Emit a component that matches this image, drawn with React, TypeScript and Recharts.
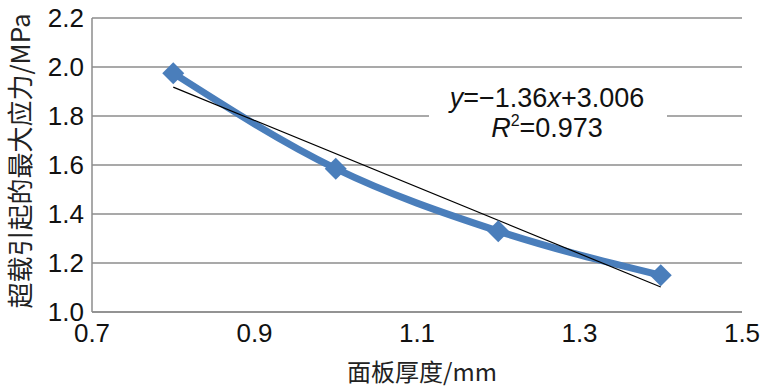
import { LineChart, Line, XAxis, YAxis, CartesianGrid, ReferenceDot } from 'recharts';

// 面板厚度 (mm)
const thickness = [0.8, 1.0, 1.2, 1.4];
// 超载引起的最大应力 (MPa)
const maxStress = [1.975, 1.585, 1.33, 1.15];

// linear trendline end points
const trendX = [0.8, 1.4];
const trendY = [1.918, 1.102];

const xTicks = [0.7, 0.9, 1.1, 1.3, 1.5];
const yTicks = [1.0, 1.2, 1.4, 1.6, 1.8, 2.0, 2.2];

const data = thickness.map((t, i) => ({ x: t, stress: maxStress[i] }));
const trendData = trendX.map((t, i) => ({ x: t, trend: trendY[i] }));

const BLUE = '#4A7EBB';
const GRID = '#8c8c8c';
const LATIN = '"Liberation Sans", Arial, sans-serif';
const CJK = '"Noto Sans CJK SC", sans-serif';

function Diamond(props: any) {
  const { cx, cy, index } = props;
  if (cx == null || cy == null) return null;
  const r = 11;
  return (
    <polygon
      key={`d-${index}`}
      points={`${cx},${cy - r} ${cx + r},${cy} ${cx},${cy + r} ${cx - r},${cy}`}
      fill={BLUE}
    />
  );
}

function EquationLabel(props: any) {
  const vb = props.viewBox || {};
  const cx = (vb.x ?? 0) + (vb.width ?? 0) / 2;
  const cy = (vb.y ?? 0) + (vb.height ?? 0) / 2;
  return (
    <g fontFamily={LATIN} fontSize={27} fill="#111">
      <rect x={cx - 118} y={cy - 30} width={238} height={62} fill="#fff" />
      <text x={cx} y={cy - 4} textAnchor="middle">
        <tspan fontStyle="italic">y</tspan>
        <tspan>=−1.36</tspan>
        <tspan fontStyle="italic">x</tspan>
        <tspan>+3.006</tspan>
      </text>
      <text x={cx} y={cy + 26} textAnchor="middle">
        <tspan fontStyle="italic">R</tspan>
        <tspan fontSize={16} dy={-11}>2</tspan>
        <tspan dy={11}>=0.973</tspan>
      </text>
    </g>
  );
}

function YTitle() {
  return (
    <text
      x={18}
      y={161}
      transform="rotate(-90 18 161)"
      textAnchor="middle"
      dominantBaseline="central"
      fontSize={26}
      fontFamily={CJK}
      fill="#222"
    >
      超载引起的最大应力/MPa
    </text>
  );
}

function XTitle() {
  return (
    <text
      x={422}
      y={370}
      textAnchor="middle"
      dominantBaseline="central"
      fontSize={24}
      fontFamily={CJK}
      fill="#222"
    >
      面板厚度/mm
    </text>
  );
}

export default function App() {
  return (
    <div style={{ width: 760, height: 389, background: '#fff' }}>
      <style>{'body{margin:0}'}</style>
      <LineChart
        width={760}
        height={389}
        margin={{ top: 18, right: 18, left: 0, bottom: 0 }}
      >
        <CartesianGrid vertical={false} stroke={GRID} strokeWidth={1.5} />
        <XAxis
          type="number"
          dataKey="x"
          domain={[0.7, 1.5]}
          ticks={xTicks}
          tickFormatter={(v: number) => v.toFixed(1)}
          allowDataOverflow
          height={77}
          stroke={GRID}
          strokeWidth={1.5}
          tickLine={false}
          tickSize={6}
          tickMargin={6}
          tick={{ fill: '#111', fontSize: 26, fontFamily: LATIN }}
          label={<XTitle />}
        />
        <YAxis
          type="number"
          domain={[1.0, 2.2]}
          ticks={yTicks}
          tickFormatter={(v: number) => v.toFixed(1)}
          width={92}
          stroke={GRID}
          strokeWidth={1.5}
          tickLine={false}
          tickSize={6}
          tickMargin={2}
          tick={{ fill: '#111', fontSize: 26, fontFamily: LATIN }}
          label={<YTitle />}
        />
        <Line
          data={data}
          dataKey="stress"
          type="monotone"
          stroke={BLUE}
          strokeWidth={7}
          dot={Diamond}
          activeDot={false}
          isAnimationActive={false}
        />
        <Line
          data={trendData}
          dataKey="trend"
          type="linear"
          stroke="#000"
          strokeWidth={1.2}
          dot={false}
          activeDot={false}
          isAnimationActive={false}
        />
        <ReferenceDot
          x={1.26}
          y={1.82}
          r={0}
          fill="none"
          stroke="none"
          label={<EquationLabel />}
        />
      </LineChart>
    </div>
  );
}
